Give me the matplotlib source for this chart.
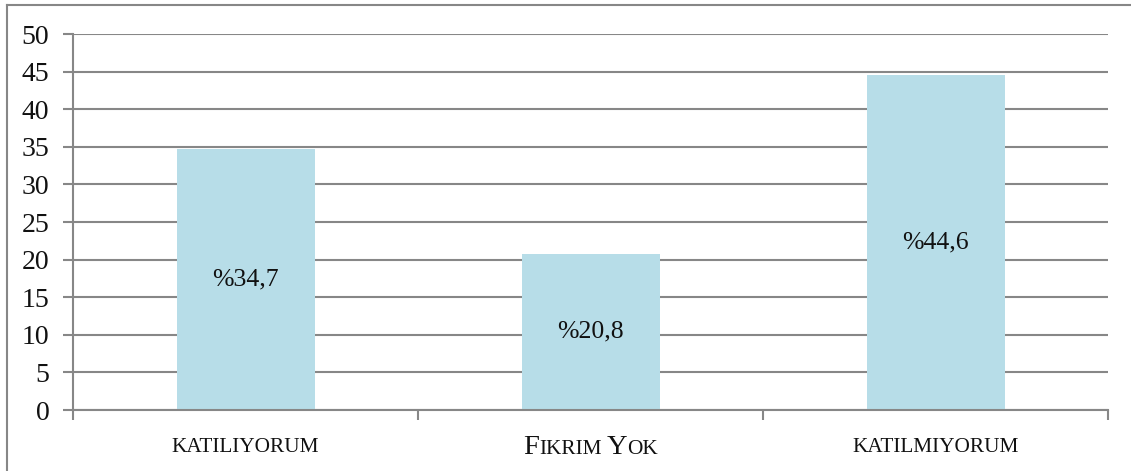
import matplotlib
matplotlib.use("Agg")
import matplotlib.pyplot as plt
from matplotlib.lines import Line2D
from matplotlib.offsetbox import TextArea, HPacker, AnnotationBbox

categories = ["KATILIYORUM", "FIKRIM YOK", "KATILMIYORUM"]
values = [34.7, 20.8, 44.6]
value_labels = ["%34,7", "%20,8", "%44,6"]
yticks = [0, 5, 10, 15, 20, 25, 30, 35, 40, 45, 50]

W, H = 1131, 471
plt.rcParams['font.family'] = ['Liberation Serif', 'DejaVu Serif']
fig = plt.figure(figsize=(W / 100, H / 100), dpi=100)
ax = fig.add_axes([73 / W, 1 - 410 / H, (1108 - 73) / W, (410 - 34) / H])

grey = "#878787"
bar_color = "#B7DDE8"
txt = "#111111"

x = list(range(len(categories)))
ax.bar(x, values, width=0.4, color=bar_color, zorder=2)
ax.set_xlim(-0.5, len(categories) - 0.5)
ax.set_ylim(0, 50)
ax.set_yticks(yticks)
ax.set_yticklabels([str(t) for t in yticks], fontsize=20, color=txt)
ax.yaxis.grid(True, color=grey, linewidth=1.5, zorder=1)
ax.set_axisbelow(True)

for s in ["top", "right"]:
    ax.spines[s].set_visible(False)
for s in ["left", "bottom"]:
    ax.spines[s].set_color(grey)
    ax.spines[s].set_linewidth(1.5)

ax.tick_params(axis="y", length=7, width=1.5, color=grey, pad=10)
# category boundaries as tick marks
ax.set_xticks([i - 0.5 for i in range(len(categories) + 1)])
ax.set_xticklabels([])
ax.tick_params(axis="x", which="major", length=7, width=1.5, color=grey)

for xi, v, lab in zip(x, values, value_labels):
    ax.text(xi, v / 2, lab, ha="center", va="center", fontsize=18.5, color=txt)

# small-caps category labels
def small_caps(label, big=20.5, small=15.3):
    parts = []
    for word_i, word in enumerate(label.split(" ")):
        if word_i > 0:
            parts.append(TextArea(" ", textprops=dict(fontsize=small)))
        if label == "FIKRIM YOK":
            parts.append(TextArea(word[0], textprops=dict(fontsize=big, color=txt)))
            parts.append(TextArea(word[1:], textprops=dict(fontsize=small, color=txt)))
        else:
            parts.append(TextArea(word, textprops=dict(fontsize=small, color=txt)))
    return HPacker(children=parts, align="baseline", pad=0, sep=0)

for xi, cat in zip(x, categories):
    box = small_caps(cat)
    ab = AnnotationBbox(box, (xi, 0), xybox=(0, -27), xycoords="data",
                        boxcoords="offset points", frameon=False,
                        box_alignment=(0.5, 0.5), annotation_clip=False)
    ax.add_artist(ab)

# outer chart frame
fig.add_artist(Line2D([7 / W, 7 / W], [0, 1 - 5 / H], transform=fig.transFigure,
                      color=grey, linewidth=1.5))
fig.add_artist(Line2D([7 / W, 1], [1 - 5 / H, 1 - 5 / H], transform=fig.transFigure,
                      color=grey, linewidth=1.5))

fig.savefig("out.png", dpi=100, facecolor="white")
